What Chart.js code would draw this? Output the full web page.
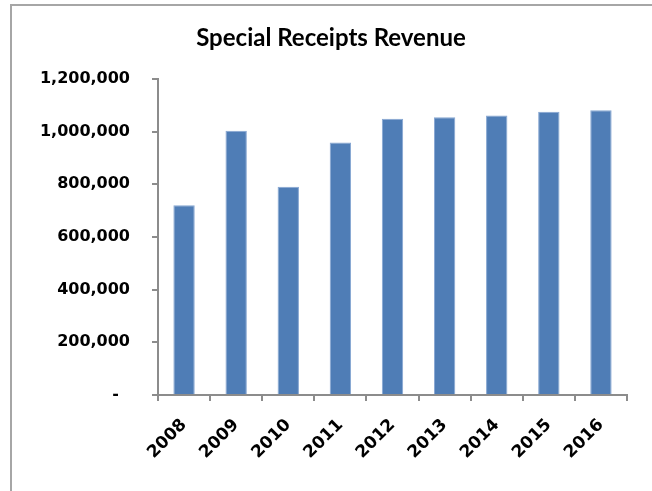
<!DOCTYPE html>
<html>
<head>
<meta charset="utf-8">
<script src="https://cdn.jsdelivr.net/npm/chart.js@4"></script>
<style>
  html, body { margin: 0; padding: 0; background: #fff; overflow: hidden; }
  #frame {
    position: absolute; left: 10px; top: 4px; width: 700px; height: 600px;
    border-left: 2px solid #a6a6a6; border-top: 2px solid #a6a6a6;
  }
  #wrap { position: absolute; left: 10px; top: 0; width: 642px; height: 491px; }
</style>
</head>
<body>
<div id="frame"></div>
<div id="wrap"><canvas id="revenueChart" width="642" height="491"></canvas></div>
<script>
// Revenue by fiscal year
const years = ["2008", "2009", "2010", "2011", "2012", "2013", "2014", "2015", "2016"];
const revenue = [720000, 1003000, 790000, 958000, 1048000, 1054000, 1061000, 1075000, 1081000];
const yMax = 1200000;
const yStep = 200000;

const axisGray = "#8c8c8c";
const yFont = { family: "DejaVu Sans", weight: "bold", size: 16 };
const xFont = { family: "DejaVu Sans", weight: "bold", size: 17 };

const ctx = document.getElementById("revenueChart").getContext("2d");
const chart = new Chart(ctx, {
  type: "bar",
  data: {
    labels: years,
    datasets: [{
      label: "Special Receipts Revenue",
      data: revenue,
      backgroundColor: "#4f7db6",
      borderColor: "#86a6d2",
      borderWidth: 1,
      barPercentage: 0.41,
      categoryPercentage: 1
    }]
  },
  options: {
    responsive: false,
    animation: false,
    // equal side padding keeps the title centred on the frame
    layout: { padding: { left: 25, right: 25, top: 0, bottom: 0 } },
    plugins: {
      legend: { display: false },
      tooltip: { enabled: false },
      title: {
        display: true,
        text: "Special Receipts Revenue",
        color: "#000",
        font: { family: "Lato", weight: "bold", size: 24 },
        padding: { top: 24, bottom: 26 }
      }
    },
    scales: {
      x: {
        offset: true,
        grid: { display: true, offset: true, drawOnChartArea: false, color: axisGray, lineWidth: 2, tickLength: 6 },
        border: { display: true, color: axisGray, width: 2 },
        ticks: { color: "#000", font: xFont, minRotation: 45, maxRotation: 45, padding: 14 },
        afterFit: (scale) => { scale.height = 96; }
      },
      y: {
        min: 0,
        max: yMax,
        grid: { display: true, drawOnChartArea: false, color: axisGray, lineWidth: 2, tickLength: 6 },
        border: { display: true, color: axisGray, width: 2 },
        ticks: {
          stepSize: yStep,
          color: "#000",
          font: yFont,
          padding: 22,
          callback: (v) => v === 0 ? "-  " : v.toLocaleString("en-US")
        },
        afterFit: (scale) => { scale.width = 123; }
      }
    }
  }
});
</script>
</body>
</html>
